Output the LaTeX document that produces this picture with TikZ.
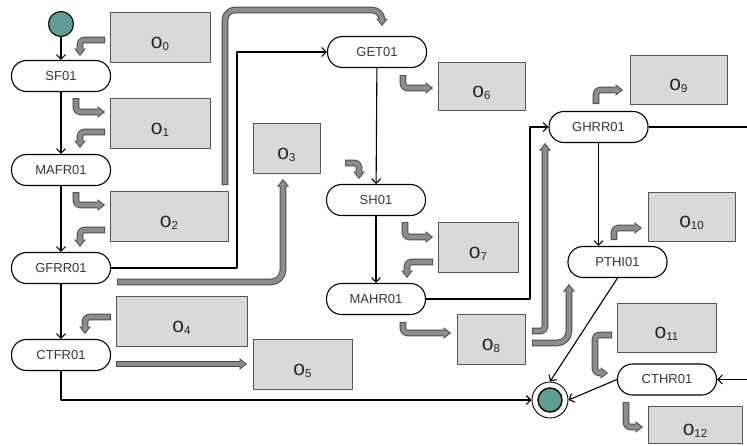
\documentclass[tikz,border=0pt]{standalone}
\usepackage{fontspec}
\setmainfont{Liberation Sans}
\usepackage{xcolor}
\usetikzlibrary{arrows.meta}

\definecolor{tealfill}{RGB}{95,156,150}
\definecolor{boxfill}{RGB}{217,217,217}
\definecolor{boxedge}{RGB}{85,85,85}
\definecolor{flowfill}{RGB}{140,140,140}
\definecolor{flowedge}{RGB}{75,75,75}
\definecolor{txtgray}{RGB}{55,55,55}

% object label: o with subscript
\newcommand{\olab}[1]{\fontsize{21}{24}\selectfont o\raisebox{-2pt}{\fontsize{11.5}{13}\selectfont #1}}

\begin{document}
\begin{tikzpicture}[x=1pt,y=-1pt,line join=round,
  stnode/.style={draw,line width=1.1pt,rounded corners=15pt,minimum width=99pt,
    minimum height=31pt,inner sep=0pt,fill=white,text=txtgray,font=\fontsize{13}{15}\selectfont},
  objbox/.style={draw=boxedge,line width=0.9pt,fill=boxfill,inner sep=0pt,
    text=black!85,text height=22pt,text depth=0pt},
  ctl/.style={line width=1.1pt,-{Straight Barb[length=4.5pt,width=9pt]}},
  gflow/.style={draw=flowfill,line width=4.6pt,rounded corners=4pt,shorten >=6pt,shorten <=0.9pt,
    preaction={draw=flowedge,line width=6.6pt,shorten >=0pt,shorten <=0pt,
      -{Triangle[length=7.5pt,width=11.5pt,line width=0.8pt,fill=flowfill]}}}]
  \useasboundingbox (0,0) rectangle (747,445);

  % start and end
  \node[circle,draw,line width=1.1pt,fill=tealfill,minimum size=25pt,inner sep=0pt] (start) at (61,24) {};
  \node[circle,draw,line width=0.9pt,fill=white,minimum size=36pt,inner sep=0pt] (endst) at (550,400) {};
  \node[circle,draw,line width=1.4pt,fill=tealfill,minimum size=24pt,inner sep=0pt] (endin) at (endst) {};

  % states
  \node[stnode] (sf) at (61,76) {SF01};
  \node[stnode] (mafr) at (61,170) {MAFR01};
  \node[stnode] (gfrr) at (61,268) {GFRR01};
  \node[stnode] (ctfr) at (61,355) {CTFR01};
  \node[stnode] (get) at (377,52) {GET01};
  \node[stnode] (sh) at (376,200) {SH01};
  \node[stnode] (mahr) at (376,299) {MAHR01};
  \node[stnode] (ghrr) at (598.5,127) {GHRR01};
  \node[stnode] (pthi) at (617.5,262) {PTHI01};
  \node[stnode] (cthr) at (667,379.5) {CTHR01};

  % objects
  \node[objbox,minimum width=100pt,minimum height=50pt] (o0) at (160,37) {\olab{0}};
  \node[objbox,minimum width=100pt,minimum height=50pt] (o1) at (160,123) {\olab{1}};
  \node[objbox,minimum width=118pt,minimum height=50pt] (o2) at (169,216) {\olab{2}};
  \node[objbox,minimum width=67pt,minimum height=50pt] (o3) at (286.5,148) {\olab{3}};
  \node[objbox,minimum width=131pt,minimum height=50pt] (o4) at (181.5,321) {\olab{4}};
  \node[objbox,minimum width=99pt,minimum height=50pt] (o5) at (302.5,364) {\olab{5}};
  \node[objbox,minimum width=87pt,minimum height=48pt] (o6) at (481.5,86) {\olab{6}};
  \node[objbox,minimum width=80pt,minimum height=50pt] (o7) at (478,247) {\olab{7}};
  \node[objbox,minimum width=68pt,minimum height=50pt] (o8) at (491,339) {\olab{8}};
  \node[objbox,minimum width=97pt,minimum height=49pt] (o9) at (678.5,79.5) {\olab{9}};
  \node[objbox,minimum width=87pt,minimum height=49pt] (o10) at (691.5,216.5) {\olab{10}};
  \node[objbox,minimum width=99pt,minimum height=49pt] (o11) at (666.5,327.5) {\olab{11}};
  \node[objbox,minimum width=94pt,minimum height=37pt] (o12) at (695,424.5) {\olab{12}};

  % control flow
  \draw[ctl] (start) -- (sf);
  \draw[ctl] (sf) -- (mafr);
  \draw[ctl] (mafr) -- (gfrr);
  \draw[ctl] (gfrr) -- (ctfr);
  \draw[ctl] (ctfr.south) |- (endst.west);
  \draw[ctl] (gfrr.east) -- (237,268) |- (get.west);
  \draw[ctl] (get) -- (sh);
  \draw[ctl] (sh) -- (mahr);
  \draw[ctl] (mahr.east) -- (530,299) |- (ghrr.west);
  \draw[ctl] (ghrr.south) -- (ghrr.south |- pthi.north);
  \draw[ctl] (ghrr.east) -- (765,127) |- (cthr.east);
  \draw[ctl] (pthi.south) -- (endst.north);
  \draw[ctl] (cthr.west) -- (endst.east);

  % object flow
  \draw[gflow] (105,40) -- (80,40) -- (80,56);
  \draw[gflow] (76,98) -- (76,112) -- (105,112);
  \draw[gflow] (105,132) -- (80,132) -- (80,148);
  \draw[gflow] (76,192) -- (76,205) -- (105,205);
  \draw[gflow] (105,230) -- (80,230) -- (80,247);
  \draw[gflow,rounded corners=10pt] (225,185) -- (225,10) -- (382,10) -- (382,26);
  \draw[gflow,rounded corners=12pt] (117,282) -- (283,282) -- (283,179);
  \draw[gflow] (111,317) -- (85,317) -- (85,334);
  \draw[gflow] (116,364) -- (247,364);
  \draw[gflow] (403,75) -- (403,88) -- (433,88);
  \draw[gflow] (345,163) -- (359,163) -- (359,179);
  \draw[gflow] (405,222) -- (405,237) -- (433,237);
  \draw[gflow] (433,262) -- (407,262) -- (407,278);
  \draw[gflow] (403,322) -- (403,333) -- (451,333);
  \draw[gflow] (532,331) -- (545,331) -- (545,143);
  \draw[gflow,rounded corners=12pt] (532,343) -- (569,343) -- (569,284);
  \draw[gflow] (596,104) -- (596,90) -- (623,90);
  \draw[gflow] (614,240) -- (614,228) -- (642,228);
  \draw[gflow] (612,335) -- (595,335) -- (595,373) -- (608,373);
  \draw[gflow] (626,402) -- (626,427) -- (643,427);
\end{tikzpicture}
\end{document}
